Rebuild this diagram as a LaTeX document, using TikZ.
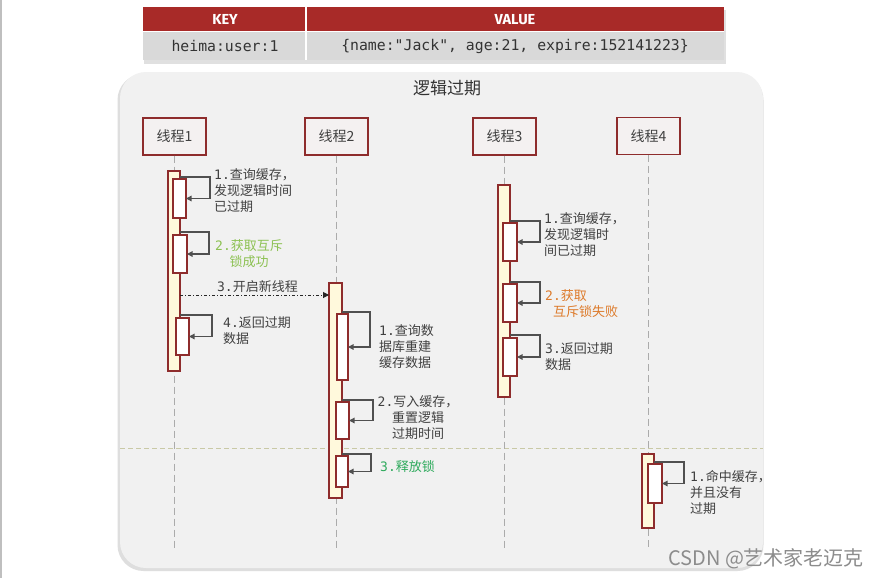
\documentclass[tikz,border=0pt]{standalone}
\usepackage{fontspec}
\setmainfont{Noto Sans CJK SC}
\newfontfamily\monof{DejaVu Sans Mono}
\newfontfamily\headf{Fira Sans}
\usetikzlibrary{arrows.meta,calc}
\definecolor{hdrred}{HTML}{A82A28}
\definecolor{rowgray}{HTML}{D9D9D9}
\definecolor{panel}{HTML}{F1F1F1}
\definecolor{maroon}{HTML}{8E2C2C}
\definecolor{thrfill}{HTML}{F4F1F1}
\definecolor{barfill}{HTML}{FFF9DC}
\definecolor{txtgray}{HTML}{404040}
\definecolor{arrgray}{HTML}{505050}
\definecolor{lifegray}{HTML}{ABABAB}
\definecolor{sepline}{HTML}{C9C9A6}
\definecolor{okgreen}{HTML}{8CC152}
\definecolor{relgreen}{HTML}{2EAA5C}
\definecolor{failorange}{HTML}{DD7A2A}
\newcommand\nm[1]{{\monof #1}}
\newcommand\rbox[6]{\node[#2,anchor=north west,minimum width=#5pt-#3pt,minimum height=#6pt-#4pt,inner sep=0pt,outer sep=0pt] (#1) at (#3,#4) {};}
\newcommand\selfcall[4]{\draw[selfarr] (#1.east |- 0,#3) -- (#4,#3) |- (#2.east);}
\tikzset{
  thr/.style={draw=maroon, line width=1.2pt, fill=thrfill, text=txtgray, font=\fontsize{14}{16}\selectfont, minimum width=63pt, minimum height=37pt, inner sep=0pt},
  life/.style={draw=lifegray, line width=1pt, dash pattern=on 7pt off 4pt},
  actbar/.style={draw=maroon, line width=1.1pt, fill=barfill},
  inbox/.style={draw=maroon, line width=1.1pt, fill=white},
  selfarr/.style={draw=arrgray, line width=1.2pt, -{Triangle[length=5.5pt,width=5.5pt]}},
  async/.style={draw=black!85, line width=1pt, dash pattern=on 3pt off 2pt on 1pt off 2pt, -{Triangle[length=6pt,width=6pt]}},
  lbl/.style={text=txtgray, font=\fontsize{13}{15.8}\selectfont, inner sep=0pt, align=left},
  hdrtxt/.style={text=white, font=\headf\bfseries\fontsize{14.5}{16}\selectfont},
  celltxt/.style={text=black!80, font=\monof\fontsize{14.8}{17}\selectfont},
}
\begin{document}
\begin{tikzpicture}[x=1pt,y=-1pt]
\useasboundingbox (0,0) rectangle (877,578);
\fill[white] (0,0) rectangle (877,578);
\draw[black!25, line width=1.5pt] (0.75,0) -- (0.75,578);
% table
\fill[black!12] (144,10) rectangle (725.5,63.5);
\fill[hdrred] (143,7) rectangle (724,32);
\fill[rowgray] (143,32) rectangle (724,60);
\draw[white, line width=1.2pt] (306,7) -- (306,60);
\draw[white, line width=1pt] (143,32) -- (724,32);
\node[hdrtxt] (kh) at (225,19.5) {KEY};
\node[hdrtxt] (vh) at (515,19.5) {VALUE};
\node[celltxt] (kc) at (225,46) {heima:user:1};
\node[celltxt] (vc) at (515,46) {\{name:"Jack", age:21, expire:152141223\}};
% panel
\fill[black!13, rounded corners=26pt] (117.5,74) rectangle (763.5,571);
\fill[panel, rounded corners=26pt] (120,72) rectangle (763,568);
\node[text=black!80, font=\fontsize{17}{19}\selectfont] (title) at (447,88) {逻辑过期};
% separator
\draw[sepline, line width=1pt, dash pattern=on 5pt off 3pt] (120,448) -- (763,448);
% threads
\node[thr] (t1) at (174.5,136.5) {线程1};
\node[thr] (t2) at (336.5,136.5) {线程2};
\node[thr] (t3) at (504.5,136.5) {线程3};
\node[thr] (t4) at (648.5,136) {线程4};
\coordinate (e1) at (174.5,548);
\coordinate (e2) at (336.5,548);
\coordinate (e3) at (504.5,548);
\coordinate (e4) at (648.5,550);
\draw[life] (t1.south) -- (e1);
\draw[life] (t2.south) -- (e2);
\draw[life] (t3.south) -- (e3);
\draw[life] (t4.south) -- (e4);
% thread 1
\rbox{T1bar}{actbar}{168}{171}{180}{371}
\rbox{b11}{inbox}{173}{179}{186}{218}
\rbox{b12}{inbox}{173}{235}{187}{273}
\rbox{b14}{inbox}{176}{318}{189}{355}
\selfcall{T1bar}{b11}{177}{210}
\selfcall{T1bar}{b12}{232}{209}
\selfcall{T1bar}{b14}{315}{212}
\node[lbl, anchor=north west] (l11) at (214,168.5) {\nm{1.}查询缓存，\\发现逻辑时间\\已过期};
\node[lbl, anchor=north, align=center, text=okgreen] (l12) at (249,239.5) {\nm{2.}获取互斥\\锁成功};
\node[lbl, anchor=north west] (l14) at (223,316.5) {\nm{4.}返回过期\\数据};
% thread 2
\rbox{T2bar}{actbar}{329}{283}{342}{498}
\rbox{b21}{inbox}{337}{314}{348}{380}
\rbox{b22}{inbox}{336}{402}{349}{439}
\rbox{b23}{inbox}{336}{456}{348}{487}
\selfcall{T2bar}{b21}{312}{370}
\selfcall{T2bar}{b22}{400}{373}
\selfcall{T2bar}{b23}{454}{371}
\draw[async] (T1bar.east |- 0,295) -- (T2bar.west |- 0,295) node[lbl, pos=0.52, anchor=south, yshift=1.5pt] (l13) {\nm{3.}开启新线程};
\node[lbl, anchor=north west] (l21) at (379,324.5) {\nm{1.}查询数\\据库重建\\缓存数据};
\node[lbl, anchor=north, align=center] (l22) at (418,395.5) {\nm{2.}写入缓存，\\重置逻辑\\过期时间};
\node[lbl, anchor=north west, text=relgreen] (l23) at (380,460.5) {\nm{3.}释放锁};
% thread 3
\rbox{T3bar}{actbar}{498}{185}{510}{397}
\rbox{b31}{inbox}{503}{223}{517}{261}
\rbox{b32}{inbox}{503}{284}{517}{322}
\rbox{b33}{inbox}{503}{338}{517}{376}
\selfcall{T3bar}{b31}{221}{540}
\selfcall{T3bar}{b32}{282}{540}
\selfcall{T3bar}{b33}{335}{540}
\node[lbl, anchor=north west] (l31) at (544,212.5) {\nm{1.}查询缓存，\\发现逻辑时\\间已过期};
\node[lbl, anchor=north west, text=failorange] (l32) at (545,289.5) {\nm{2.}获取\\\hspace*{8pt}互斥锁失败};
\node[lbl, anchor=north west] (l33) at (545,342.5) {\nm{3.}返回过期\\数据};
% thread 4
\rbox{T4bar}{actbar}{642}{454}{654}{528}
\rbox{b41}{inbox}{648}{464}{662}{503}
\selfcall{T4bar}{b41}{462}{684}
\node[lbl, anchor=north west] (l41) at (690,470.5) {\nm{1.}命中缓存，\\并且没有\\过期};
% watermark
\node[anchor=west, text=black!45, font=\fontsize{20}{22}\selectfont, inner sep=0pt] (wm) at (668,559) {CSDN @艺术家老迈克};
\end{tikzpicture}
\end{document}
